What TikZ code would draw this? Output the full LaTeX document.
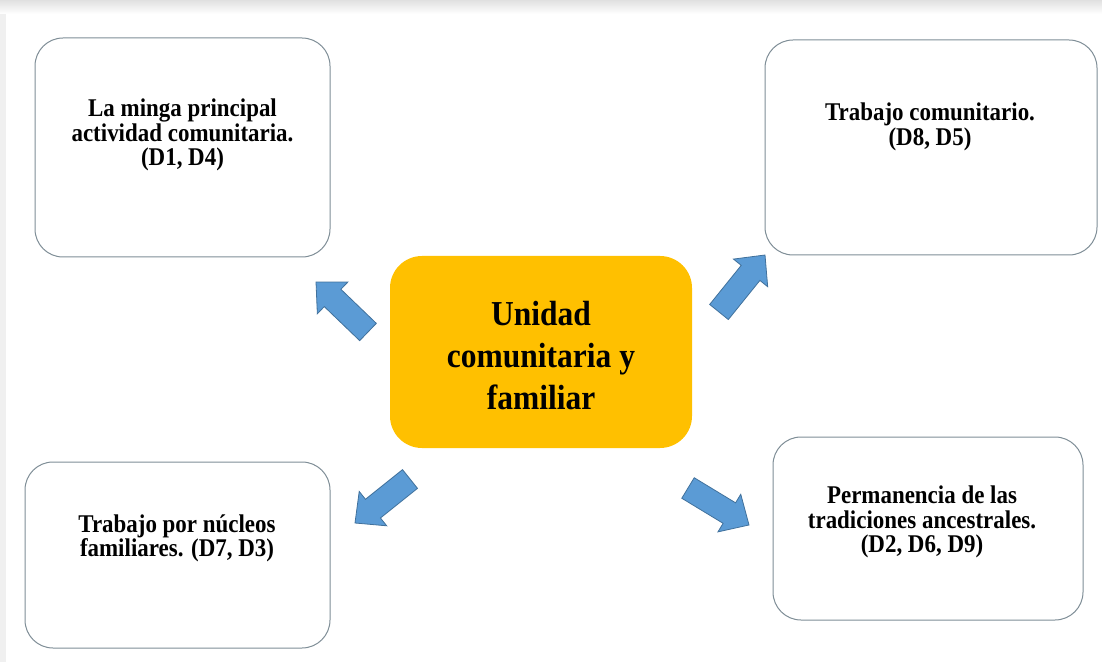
\documentclass[tikz,border=0pt]{standalone}
\usepackage{fontspec}
\setmainfont{Liberation Serif}[FakeStretch=0.9]
\usetikzlibrary{calc}
\definecolor{boxline}{HTML}{7F8E97}
\definecolor{centerfill}{HTML}{FFC000}
\definecolor{arrowfill}{HTML}{5B9BD5}
\definecolor{arrowline}{HTML}{41719C}
\tikzset{
  sidebox/.style={draw=boxline, line width=1pt, rounded corners=28pt, fill=white},
  sidetext/.style={align=center, font=\bfseries\fontsize{25.5}{24.5}\selectfont, inner sep=0pt},
  centerbox/.style={fill=centerfill, rounded corners=32pt},
  centertext/.style={align=center, font=\bfseries\fontsize{35}{42}\selectfont, inner sep=0pt},
  barrow/.style={fill=arrowfill, draw=arrowline, line width=0.8pt, line join=miter}
}
\newcommand\blockarrow[2]{%
  \coordinate (#1-hb) at ($(#2)!23pt!(#1)$);
  \draw[barrow] ($(#1)!12pt!90:(#2)$) -- ($(#1-hb)!12pt!90:(#2)$) -- ($(#1-hb)!22pt!90:(#2)$) -- (#2)
    -- ($(#1-hb)!22pt!-90:(#2)$) -- ($(#1-hb)!12pt!-90:(#2)$) -- ($(#1)!12pt!-90:(#2)$) -- cycle;}
\begin{document}
\begin{tikzpicture}[x=1pt,y=1pt]
\useasboundingbox (0,0) rectangle (1102,662);
% page shadow
\shade[top color=black!12, bottom color=white] (0,648) rectangle (1102,662);
\fill[black!6] (0,0) rectangle (6,648);
% boxes
\node[sidebox, minimum width=295pt, minimum height=219pt, inner sep=0pt] (tlbox) at (182.5,514.5) {};
\node[sidebox, minimum width=332pt, minimum height=215pt, inner sep=0pt] (trbox) at (931,514.5) {};
\node[sidebox, minimum width=305pt, minimum height=186pt, inner sep=0pt] (blbox) at (177.5,107) {};
\node[sidebox, minimum width=310pt, minimum height=183pt, inner sep=0pt] (brbox) at (928,133.5) {};
\node[centerbox, minimum width=302pt, minimum height=192pt, inner sep=0pt] (cbox) at (541,310) {};
\node[sidetext] (tltext) at (182.5,527) {La minga principal\\actividad comunitaria.\\(D1, D4)};
\node[sidetext] (trtext) at (930,535) {Trabajo comunitario.\\(D8, D5)};
\node[sidetext] (bltext) at (177,123.5) {Trabajo por núcleos\\familiares. (D7, D3)};
\node[sidetext] (brtext) at (922,140) {Permanencia de las\\tradiciones ancestrales.\\(D2, D6, D9)};
\node[centertext] (ctext) at (541,306) {Unidad\\comunitaria y\\familiar};
% arrows
\coordinate (a1) at (368,330); \coordinate (a1t) at (316,380);
\coordinate (a2) at (719,350); \coordinate (a2t) at (765,407);
\coordinate (a3) at (410,183); \coordinate (a3t) at (355,139);
\coordinate (a4) at (688,174); \coordinate (a4t) at (749,137);
\blockarrow{a1}{a1t}
\blockarrow{a2}{a2t}
\blockarrow{a3}{a3t}
\blockarrow{a4}{a4t}
\end{tikzpicture}
\end{document}
